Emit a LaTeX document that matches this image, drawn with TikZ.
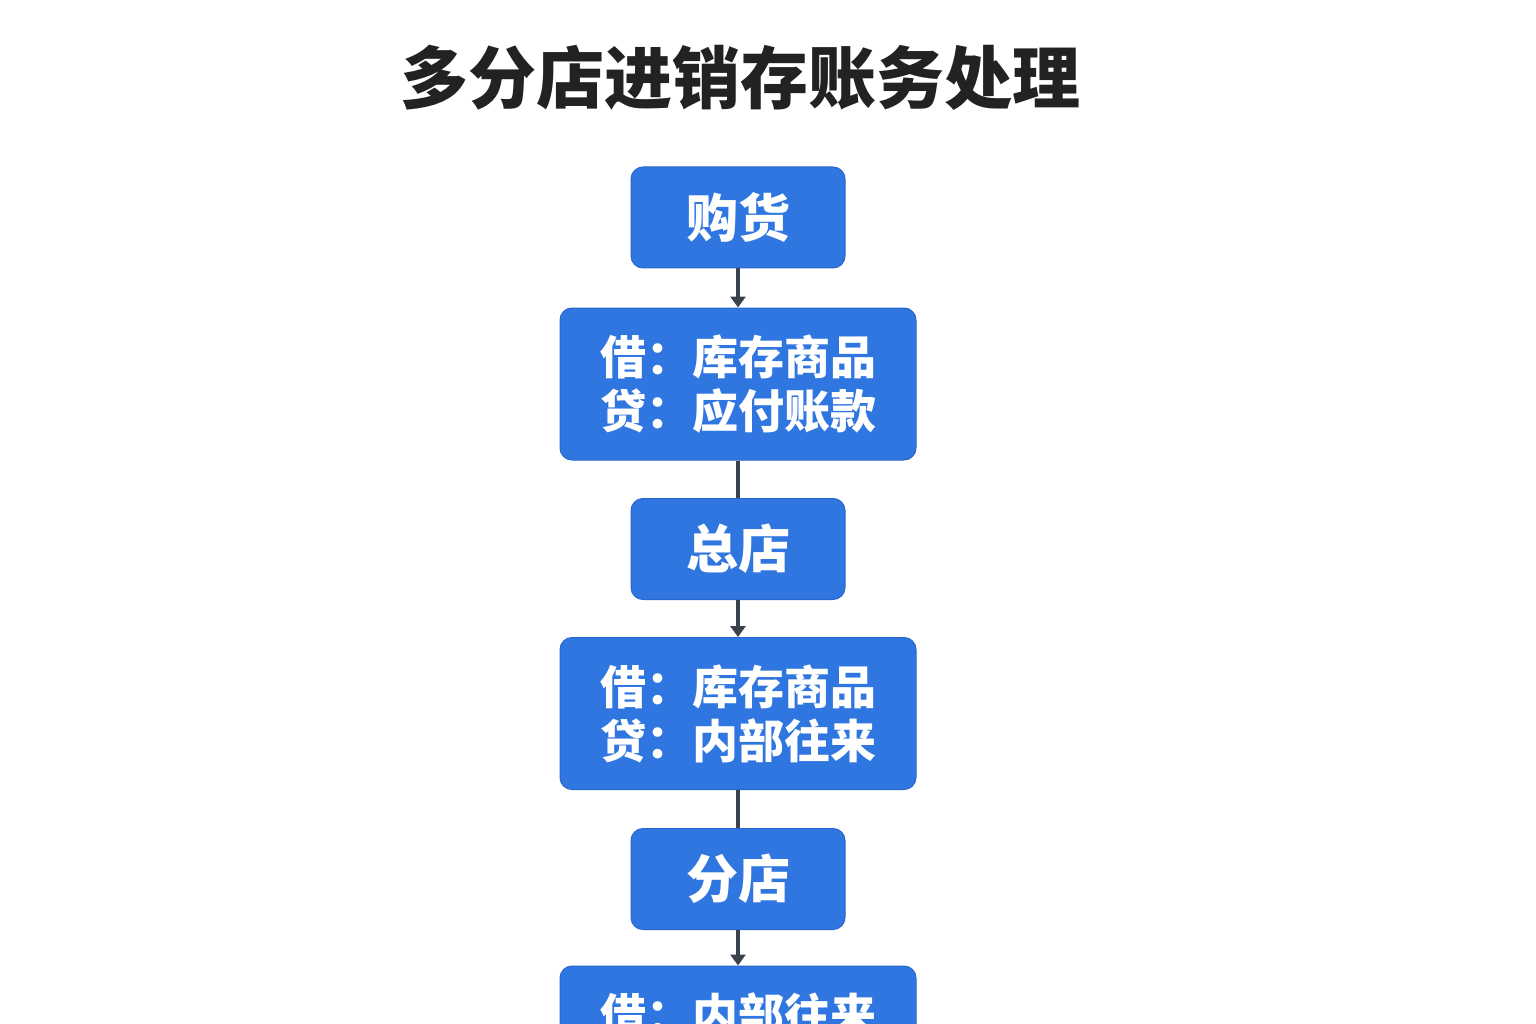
\documentclass[tikz,border=0pt]{standalone}
\usepackage{fontspec}
\setmainfont{Noto Sans CJK SC}
\usetikzlibrary{arrows.meta}
\definecolor{boxblue}{RGB}{47,118,224}
\definecolor{boxedge}{RGB}{40,104,206}
\definecolor{arrowgray}{RGB}{58,66,78}
\definecolor{titlegray}{RGB}{34,34,34}
\begin{document}
\begin{tikzpicture}[x=1pt,y=-1pt,
  box/.style={draw=boxedge,line width=1pt,fill=boxblue,rounded corners=12pt,text=white,font=\bfseries,align=center,inner sep=0pt},
  small/.style={box,minimum width=214pt,minimum height=101pt,font=\fontsize{52}{56}\selectfont\bfseries},
  big/.style={box,minimum width=356pt,minimum height=152pt,font=\fontsize{46}{54}\selectfont\bfseries},
  conn/.style={draw=arrowgray,line width=3.5pt},
  arr/.style={conn,-{Triangle[width=15pt,length=11pt]}}]
\useasboundingbox (0,0) rectangle (1536,1024);
\clip (0,0) rectangle (1536,1024);
\fill[white] (0,0) rectangle (1536,1024);
\node[text=titlegray,font=\fontsize{68}{74}\selectfont\bfseries] (title) at (740,78) {多分店进销存账务处理};
\node[small] (b1) at (738,217.5) {购货};
\node[big] (b2) at (738,384) {借：库存商品\\贷：应付账款};
\node[small] (b3) at (738,549) {总店};
\node[big] (b4) at (738,713.5) {借：库存商品\\贷：内部往来};
\node[small] (b5) at (738,879) {分店};
\node[big] (b6) at (738,1042) {借：内部往来\\贷：库存商品};
\draw[arr] (b1) -- (b2);
\draw[conn] (b2) -- (b3);
\draw[arr] (b3) -- (b4);
\draw[conn] (b4) -- (b5);
\draw[arr] (b5) -- (b6);
\end{tikzpicture}
\end{document}
